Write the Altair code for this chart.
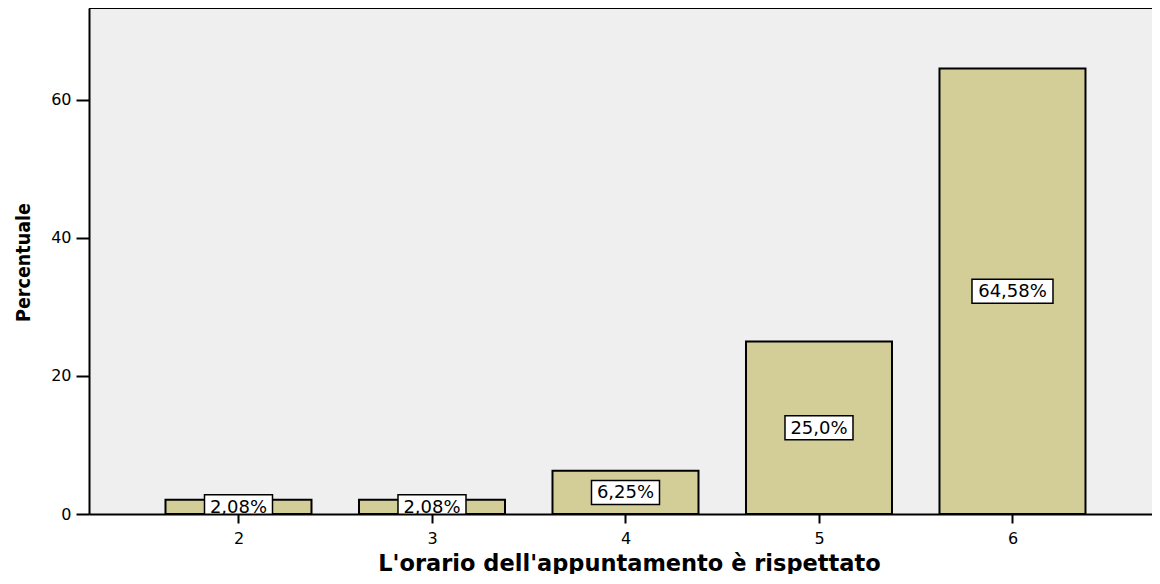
import altair as alt
import pandas as pd

# ---- data ----
categories = [2, 3, 4, 5, 6]
percentages = [2.08, 2.08, 6.25, 25.0, 64.58]
labels = ["2,08%", "2,08%", "6,25%", "25,0%", "64,58%"]
y_ticks = [0, 20, 40, 60]

df = pd.DataFrame({"cat": categories, "pct": percentages, "label": labels})

W = 1063
H = 506
BG = "#efefef"
BAR = "#d3ce97"

xscale = alt.Scale(domain=[1.2274, 6.7210], nice=False, zero=False, padding=0)
yscale = alt.Scale(domain=[0, 73.33], nice=False, zero=True, padding=0)

xaxis = alt.Axis(
    values=categories, format="d", title="L'orario dell'appuntamento è rispettato",
    domainColor="black", domainWidth=2, tickColor="black", tickWidth=2, tickSize=9,
    labelFont="DejaVu Sans", labelFontSize=16, labelColor="black", labelPadding=7,
    titleFont="DejaVu Sans", titleFontWeight="bold", titleFontSize=22.5, titleColor="black",
    titleX=540, titleY=56, titleAlign="center", titleBaseline="alphabetic",
    grid=False, zindex=1,
)
yaxis = alt.Axis(
    values=y_ticks, title="Percentuale",
    domainColor="black", domainWidth=2, tickColor="black", tickWidth=2, tickSize=13,
    labelFont="DejaVu Sans", labelFontSize=16, labelColor="black", labelPadding=5,
    titleFont="DejaVu Sans Condensed", titleFontWeight="bold", titleFontSize=19.5,
    titleColor="black",
    titleX=-66, titleY=254, titleAngle=270, titleAlign="center", titleBaseline="middle",
    grid=False, zindex=1,
)

base = alt.Chart(df)

bars = base.mark_bar(size=146, fill=BAR, stroke="black", strokeWidth=2, clip=True).encode(
    x=alt.X("cat:Q", scale=xscale, axis=xaxis),
    y=alt.Y("pct:Q", scale=yscale, axis=yaxis),
)

mid = base.transform_calculate(mid="datum.pct / 2", n="length(datum.label)")

box5 = mid.transform_filter("datum.n == 5").mark_rect(
    width=68, height=24, fill="white", stroke="black", strokeWidth=1.5, clip=True
).encode(x=alt.X("cat:Q", scale=xscale), y=alt.Y("mid:Q", scale=yscale))

box6 = mid.transform_filter("datum.n == 6").mark_rect(
    width=81, height=24, fill="white", stroke="black", strokeWidth=1.5, clip=True
).encode(x=alt.X("cat:Q", scale=xscale), y=alt.Y("mid:Q", scale=yscale))

texts = mid.mark_text(
    font="DejaVu Sans", fontSize=18, color="black", align="center", baseline="middle",
    dy=1, clip=True,
).encode(x=alt.X("cat:Q", scale=xscale), y=alt.Y("mid:Q", scale=yscale), text="label:N")

top_line = alt.Chart(df).mark_rule(color="black", strokeWidth=2).encode(
    x=alt.value(0), x2=alt.value(W), y=alt.value(0)
)

chart = alt.layer(bars, box5, box6, texts, top_line).properties(
    width=W, height=H,
    background="white",
    padding={"left": 81, "top": 0, "right": 0, "bottom": 60},
    autosize=alt.AutoSizeParams(type="none"),
).configure_view(fill=BG, stroke=None)

chart.save("out.html", embed_options={"renderer": "svg", "actions": False})
